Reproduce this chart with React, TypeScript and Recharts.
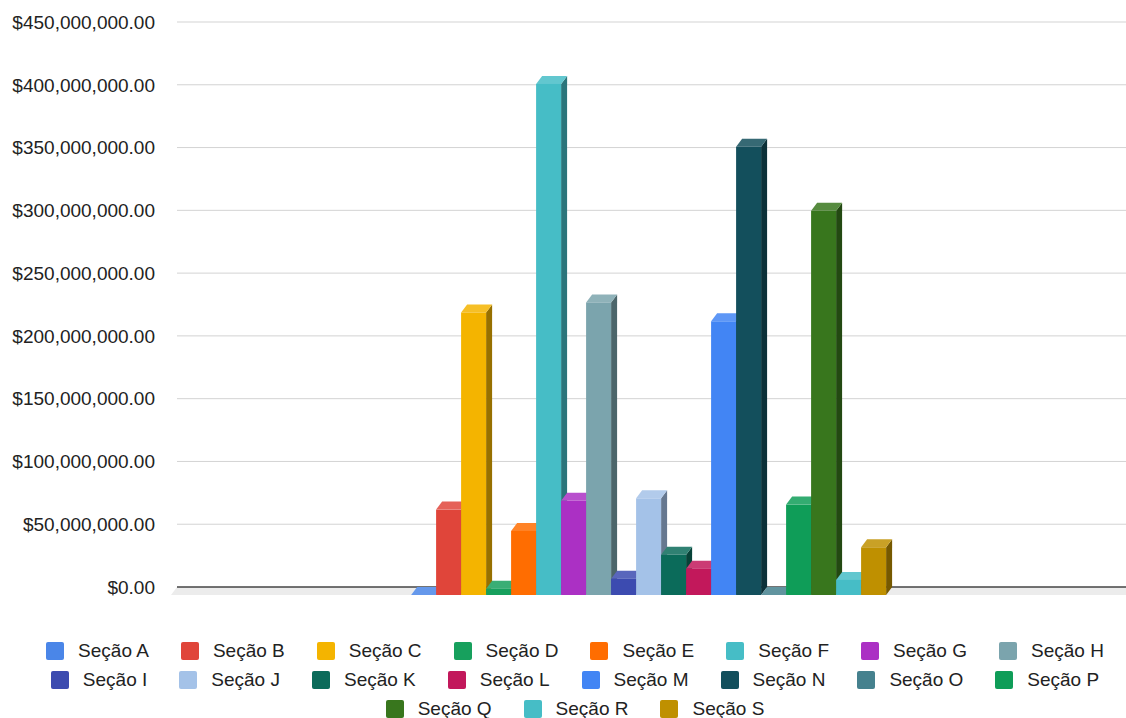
import React from 'react';
import { BarChart, Bar, XAxis, YAxis, CartesianGrid, Legend } from 'recharts';

// Sections and their amounts (single category, one series per section)
const sections = [
  'Seção A', 'Seção B', 'Seção C', 'Seção D', 'Seção E', 'Seção F', 'Seção G',
  'Seção H', 'Seção I', 'Seção J', 'Seção K', 'Seção L', 'Seção M', 'Seção N',
  'Seção O', 'Seção P', 'Seção Q', 'Seção R', 'Seção S',
];

const amounts = [
  0, 68000000, 225000000, 5000000, 51000000, 407000000, 75000000,
  233000000, 13000000, 77000000, 32000000, 21000000, 218000000, 357000000,
  0, 72000000, 306000000, 12000000, 38000000,
];

const colors = [
  '#4a86e8', '#e0453a', '#f4b400', '#17a05d', '#ff6d01', '#46bdc6', '#ab30c4',
  '#7ba4ad', '#3c4bb0', '#a4c2e8', '#0b6b5a', '#c2185b', '#4285f4', '#134f5c',
  '#45818e', '#0f9d58', '#38761d', '#46bdc6', '#bf9000',
];

const yTicks = [0, 50000000, 100000000, 150000000, 200000000, 250000000, 300000000, 350000000, 400000000, 450000000];

const data = [
  sections.reduce<Record<string, number | string>>((row, s, i) => {
    row[s] = amounts[i];
    return row;
  }, { name: 'Total' }),
];

// depth of the fake 3D extrusion
const DX = 6;
const DY = 8;

function shade(hex: string, f: number) {
  const n = parseInt(hex.slice(1), 16);
  const ch = [(n >> 16) & 255, (n >> 8) & 255, n & 255].map((c) =>
    f < 1 ? Math.round(c * f) : Math.round(c + (255 - c) * (f - 1))
  );
  return `rgb(${ch[0]},${ch[1]},${ch[2]})`;
}

const Box3D = (props: any) => {
  const { x, y, width: w, height: h, fill } = props;
  if (x == null || y == null) return null;
  const fx = x - DX;
  const fy = y + DY;
  return (
    <g>
      <polygon
        points={`${fx + w},${fy} ${x + w},${y} ${x + w},${y + h} ${fx + w},${fy + h}`}
        fill={shade(fill, 0.62)}
      />
      <polygon
        points={`${fx},${fy} ${fx + w},${fy} ${x + w},${y} ${x},${y}`}
        fill={shade(fill, 1.15)}
      />
      {h > 0 && <rect x={fx} y={fy} width={w} height={h} fill={fill} />}
    </g>
  );
};

// horizontal grid lines; the bottom one becomes the 3D floor
const GridLine = (props: any) => {
  const { x1, y1, x2, y, height, index } = props;
  if (Math.abs(y1 - (y + height)) < 1) {
    return (
      <g key={`floor-${index}`}>
        <polygon points={`${x1},${y1} ${x2},${y1} ${x2},${y1 + DY} ${x1 - DX},${y1 + DY}`} fill="#ececec" />
        <line x1={x1} y1={y1} x2={x2} y2={y1} stroke="#444" strokeWidth={1.5} />
      </g>
    );
  }
  return <line key={`grid-${index}`} x1={x1} y1={y1} x2={x2} y2={y1} stroke="#d3d3d3" />;
};

const money = (v: number) =>
  '$' + v.toLocaleString('en-US', { minimumFractionDigits: 2, maximumFractionDigits: 2 });

const LegendRows = () => (
  <div
    style={{
      display: 'flex',
      flexWrap: 'wrap',
      justifyContent: 'center',
      width: 1126,
      height: 87,
      paddingLeft: 24,
      boxSizing: 'border-box',
      fontFamily: '"Liberation Sans", Arial, sans-serif',
      fontSize: 19,
      color: '#222',
    }}
  >
    {sections.map((s, i) => (
      <div key={s} style={{ display: 'flex', alignItems: 'center', height: 29, margin: '0 16px' }}>
        <span
          style={{ width: 18, height: 18, borderRadius: 2, background: colors[i], marginRight: 14, display: 'inline-block' }}
        />
        <span>{s}</span>
      </div>
    ))}
  </div>
);

export default function App() {
  return (
    <div style={{ position: 'absolute', left: 0, top: 0, background: '#fff' }}>
      <BarChart
        width={1126}
        height={718}
        data={data}
        margin={{ top: 22, right: 0, left: 0, bottom: 44 }}
        barCategoryGap="25.3%"
        barGap={0}
      >
        <CartesianGrid vertical={false} horizontal={GridLine} />
        <XAxis dataKey="name" hide />
        <YAxis
          width={177}
          domain={[0, 450000000]}
          ticks={yTicks}
          tickFormatter={money}
          axisLine={false}
          tickLine={false}
          tickMargin={16}
          tick={{ fill: '#222', fontSize: 19, fontFamily: '"Liberation Sans", Arial, sans-serif' }}
        />
        {sections.map((s, i) => (
          <Bar key={s} dataKey={s} fill={colors[i]} shape={Box3D} isAnimationActive={false} />
        ))}
        <Legend content={LegendRows} wrapperStyle={{ top: 636, bottom: 'auto', left: 0 }} />
      </BarChart>
    </div>
  );
}
